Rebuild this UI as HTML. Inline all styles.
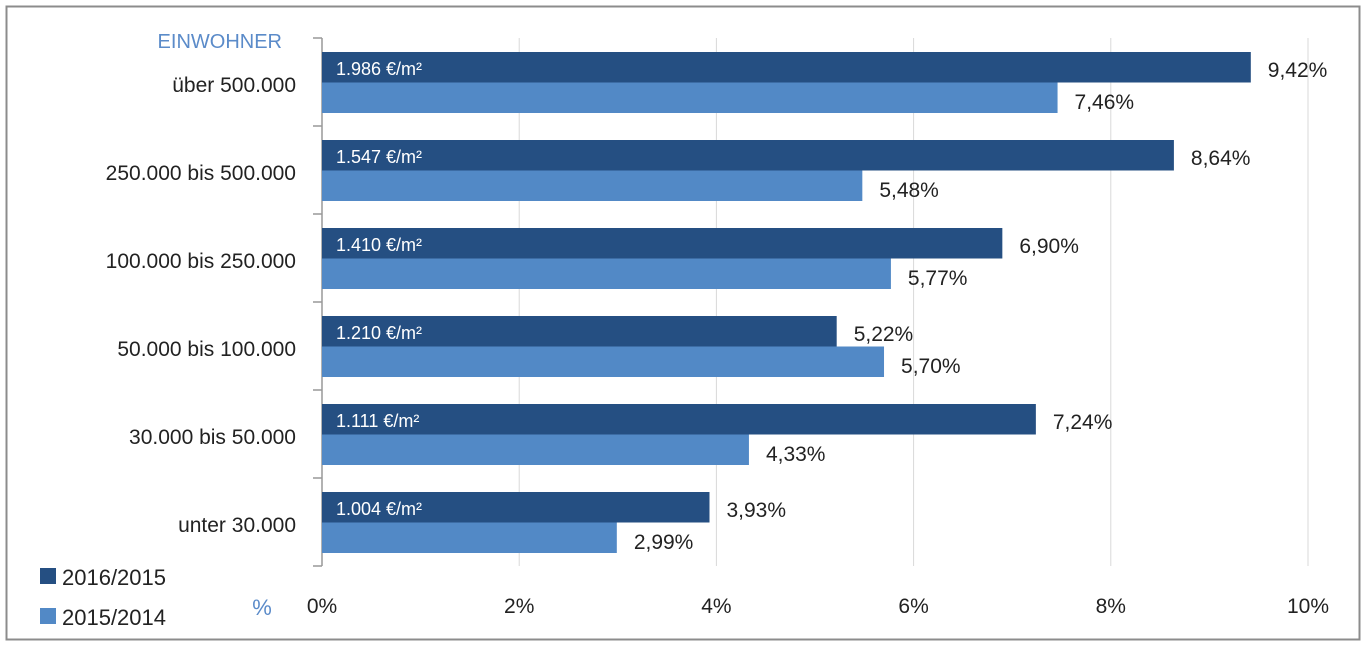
<!DOCTYPE html>
<html><head><meta charset="utf-8"><style>
body{margin:0;background:#fff;width:1366px;height:650px;overflow:hidden;font-family:"Liberation Sans",sans-serif}
</style></head><body>
<svg width="1366" height="650" xmlns="http://www.w3.org/2000/svg">
<rect x="6.5" y="6.5" width="1353" height="633" fill="#fff" stroke="#8c8c8c" stroke-width="2"/>
<g id="grid"></g><g id="bars"></g><g id="labels"></g>
<text x="282" y="48" text-anchor="end" font-size="20" fill="#5b8bc9">EINWOHNER</text>
<text x="262" y="615" text-anchor="middle" font-size="22" fill="#5b8bc9">%</text>
<rect x="40" y="568" width="16" height="16" fill="#254f82"/>
<text x="62" y="585" font-size="22" fill="#222">2016/2015</text>
<rect x="40" y="608" width="16" height="16" fill="#5289c6"/>
<text x="62" y="625" font-size="22" fill="#222">2015/2014</text>
</svg>
<script>
const categories=["über 500.000","250.000 bis 500.000","100.000 bis 250.000","50.000 bis 100.000","30.000 bis 50.000","unter 30.000"];
const series2016=[9.42,8.64,6.90,5.22,7.24,3.93];
const series2015=[7.46,5.48,5.77,5.70,4.33,2.99];
const priceLabels=["1.986 €/m²","1.547 €/m²","1.410 €/m²","1.210 €/m²","1.111 €/m²","1.004 €/m²"];
const xTicks=[0,2,4,6,8,10];
const NS="http://www.w3.org/2000/svg";
const x0=322,pxPer=98.6,top0=38,rowH=88;
const xs=v=>x0+v*pxPer;
function mk(tag,attrs,parent,txt){const e=document.createElementNS(NS,tag);for(const k in attrs)e.setAttribute(k,attrs[k]);if(txt!=null)e.textContent=txt;document.querySelector(parent).appendChild(e);return e;}
const fmt=v=>v.toFixed(2).replace('.',',')+'%';
xTicks.forEach(t=>{
  if(t>0){const g=mk('line',{x1:xs(t),x2:xs(t),y1:top0,y2:top0+rowH*6,stroke:'#d9d9d9','stroke-width':1},'#grid');
  
  }
  const l=mk('text',{x:xs(t),y:613,'text-anchor':'middle','font-size':21,fill:'#222'},'#labels',t+'%');
  
  
});
const ax=mk('line',{x1:x0,x2:x0,y1:top0,y2:top0+rowH*6,stroke:'#999','stroke-width':1.5},'#grid');


for(let i=0;i<=6;i++){const tk=mk('line',{x1:313,x2:x0,y1:top0+i*rowH,y2:top0+i*rowH,stroke:'#999','stroke-width':1.5},'#grid');

}
categories.forEach((c,i)=>{
  const y=top0+i*rowH;
  const cl=mk('text',{x:296,y:y+54,'text-anchor':'end','font-size':21,fill:'#222'},'#labels',c);
  
  
  const b1=mk('rect',{x:x0,y:y+14,width:xs(series2016[i])-x0,height:30.5,fill:'#254f82'},'#bars');
  
  
  const b2=mk('rect',{x:x0,y:y+44.5,width:xs(series2015[i])-x0,height:30.5,fill:'#5289c6'},'#bars');
  
  
  const p=mk('text',{x:336,y:y+37,'font-size':18,fill:'#fff'},'#labels',priceLabels[i]);
  
  
  const v1=mk('text',{x:xs(series2016[i])+17,y:y+39,'font-size':21,fill:'#222'},'#labels',fmt(series2016[i]));
  
  
  const v2=mk('text',{x:xs(series2015[i])+17,y:y+71,'font-size':21,fill:'#222'},'#labels',fmt(series2015[i]));
  
  
});
</script>
</body></html>
